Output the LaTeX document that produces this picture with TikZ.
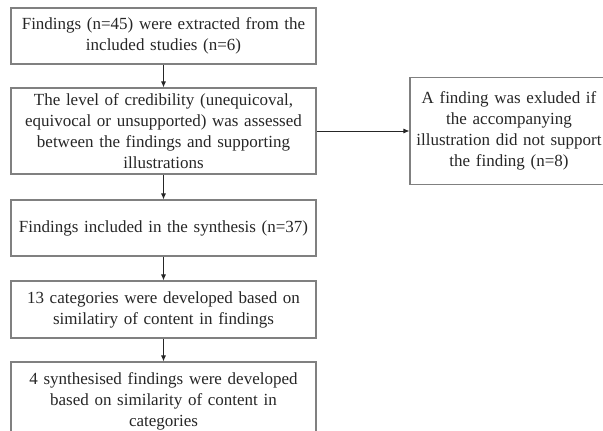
\documentclass[tikz,border=0pt]{standalone}
\usepackage{fontspec}
\setmainfont{Liberation Serif}
\usetikzlibrary{arrows.meta}

\tikzset{
  box/.style={draw=black!50, line width=1.1pt, align=center, text width=299pt,
    inner xsep=3pt, inner ysep=0pt, text=black!85,
    font=\fontsize{17}{21}\selectfont},
  sidebox/.style={box, text width=192pt},
  arr/.style={-{Latex[length=6pt,width=5pt]}, line width=0.9pt, black!85}
}

\begin{document}
\begin{tikzpicture}[x=1pt,y=-1pt]
\clip (0,0) rectangle (603,431);

\node[box, minimum height=56pt] (found) at (163.5,36) {Findings (n=45) were extracted from the\\ included studies (n=6)};
\node[box, minimum height=86pt] (level) at (163.5,131) {The level of credibility (unequicoval,\\ equivocal or unsupported) was assessed\\ between the findings and supporting\\ illustrations};
\node[box, minimum height=56pt] (incl) at (163.5,228) {Findings included in the synthesis (n=37)};
\node[box, minimum height=57pt] (categ) at (163.5,309.5) {13 categories were developed based on\\ similatiry of content in findings};
\node[box, minimum height=78pt] (synth) at (163.5,401) {4 synthesised findings were developed\\ based on similarity of content in\\ categories};

\node[sidebox, minimum height=107pt] (excl) at (509,131) {A finding was exluded if\\ the accompanying\\ illustration did not support\\ the finding (n=8)};

\draw[arr] (found) -- (level);
\draw[arr] (level) -- (incl);
\draw[arr] (incl) -- (categ);
\draw[arr] (categ) -- (synth);
\draw[arr] (level) -- (excl);

\end{tikzpicture}
\end{document}
